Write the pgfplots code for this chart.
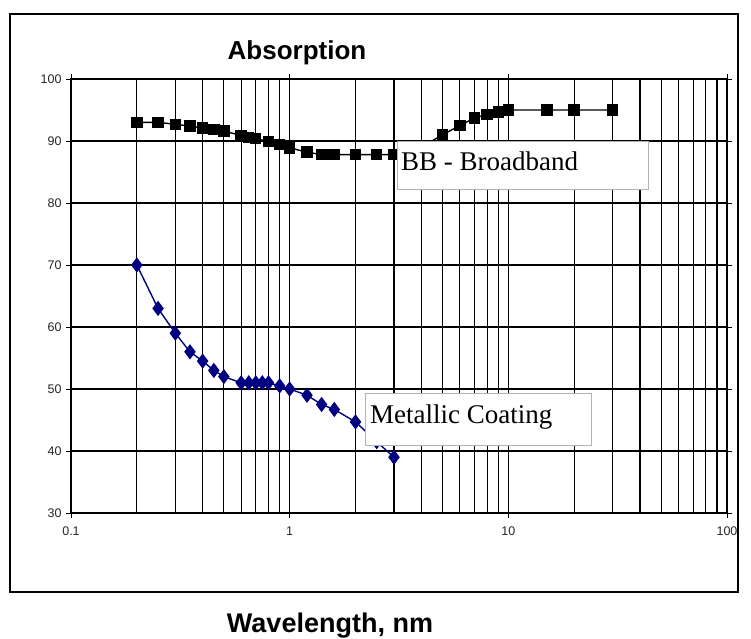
\documentclass[border=0pt]{standalone}
\usepackage{fontspec}
\setmainfont{Liberation Sans}
\newfontfamily\serif{Liberation Serif}
\usepackage{pgfplots}
\pgfplotsset{compat=1.18}
\definecolor{navy}{RGB}{0,0,128}
\begin{document}
\begin{tikzpicture}[x=1pt,y=1pt]
\path[use as bounding box] (0,0) rectangle (751,638);
\draw[line width=1.2pt] (10,46) rectangle (738,624);
\begin{axis}[
    at={(71pt,125pt)}, anchor=south west,
    width=656pt, height=434pt, scale only axis,
    xmode=log, xmin=0.1, xmax=100,
    ymin=30, ymax=100,
    ytick={30,40,...,100},
    xtick={0.1,1,10,100},
    xticklabels={0.1,1,10,100},
    log ticks with fixed point,
    grid=both,
    major grid style={black, line width=1.2pt},
    minor grid style={black, line width=1.2pt},
    minor y tick num=0,
    axis line style={black, line width=1.2pt},
    tick style={black, line width=0.8pt},
    tick align=outside,
    major tick length=5pt, minor tick length=0pt,
    tick label style={font=\fontsize{12.5}{14}\selectfont, text=black!85},
    /pgf/number format/assume math mode=true,
    xticklabel style={yshift=-5pt},
    yticklabel style={xshift=-1pt},
    clip=false,
]
\addplot[black, line width=1.4pt, mark=square*, mark size=5pt] coordinates {
(0.2,93)(0.25,93)(0.3,92.7)(0.35,92.4)(0.4,92.1)(0.45,91.9)(0.5,91.6)
(0.6,90.9)(0.65,90.6)(0.7,90.4)(0.8,89.9)(0.9,89.4)(1.0,88.9)(1.2,88.2)
(1.4,87.8)(1.5,87.8)(1.6,87.8)(2,87.8)(2.5,87.8)(3,87.8)(4,89)(5,91)
(6,92.5)(7,93.7)(8,94.3)(9,94.7)(10,95)(15,95)(20,95)(30,95)
};
\addplot[navy, line width=1.4pt, mark=diamond*, mark size=6.5pt] coordinates {
(0.2,70)(0.25,63)(0.3,59)(0.35,56)(0.4,54.5)(0.45,53)(0.5,52)(0.6,51)
(0.65,51)(0.7,51)(0.75,51)(0.8,51)(0.9,50.5)(1.0,50)(1.2,49)(1.4,47.5)
(1.6,46.7)(2.0,44.7)(2.5,41.5)(3.0,39)
};
\end{axis}
\filldraw[fill=white, draw=gray!60, line width=1pt] (397,448) rectangle (648,496);
\node[anchor=base west, inner sep=0pt, font=\serif\fontsize{27}{30}\selectfont] at (401,467) {BB - Broadband};
\filldraw[fill=white, draw=gray!60, line width=1pt] (365,193) rectangle (591,245);
\node[anchor=base west, inner sep=0pt, font=\serif\fontsize{27}{30}\selectfont] at (370,215) {Metallic Coating};
\node[anchor=base, inner sep=0pt, font=\bfseries\fontsize{26}{30}\selectfont] at (297,578) {Absorption};
\node[anchor=base, inner sep=0pt, font=\bfseries\fontsize{27}{30}\selectfont] at (330,6) {Wavelength, nm};
\end{tikzpicture}
\end{document}
